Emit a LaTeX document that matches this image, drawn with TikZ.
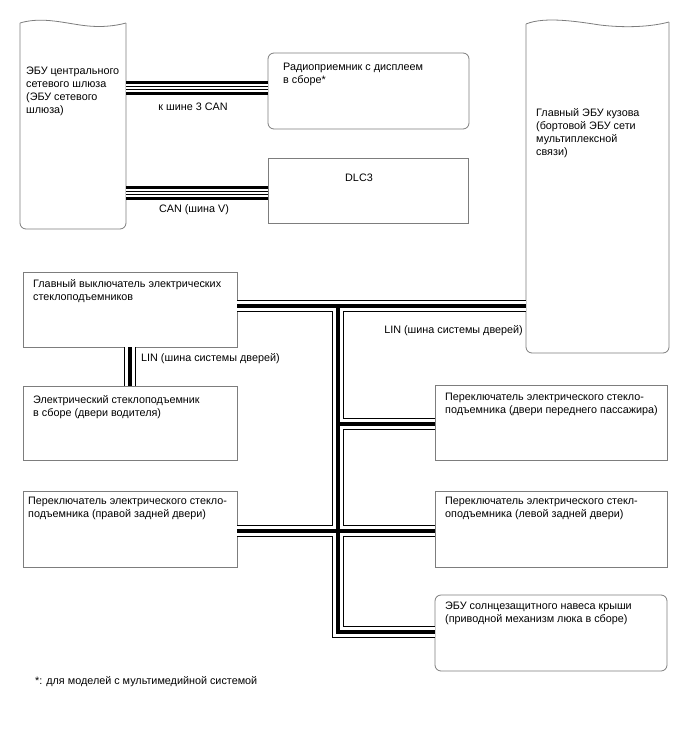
\documentclass[tikz,border=0pt]{standalone}
\usepackage{fontspec}
\setmainfont{Liberation Sans}
\usetikzlibrary{calc}
\definecolor{boxgray}{RGB}{125,125,125}

\begin{document}
\begin{tikzpicture}[x=1pt, y=-1pt, line join=miter,
    box/.style={draw=boxgray, line width=0.8pt, inner sep=0pt},
    ecu/.style={inner sep=0pt},
    txt/.style={anchor=north west, inner sep=0pt, align=left, font=\fontsize{10.8}{13}\selectfont},
    lbl/.style={inner sep=0pt, font=\fontsize{10.8}{13}\selectfont}]
    \useasboundingbox (0,0) rectangle (688,755);

    % Gateway ECU
    \node[ecu, minimum width=106, minimum height=207] (gw) at (73,125.5) {};
    \draw[boxgray, line width=0.8pt, rounded corners=6] (20,23) -- (20,229) -- (126,229) -- (126,23);
    \draw[boxgray, line width=0.8pt] (20,23) .. controls (40,17) and (60,22) .. (80,25) .. controls (100,28) and (115,26) .. (126,23);
    \node[txt] (gwtext) at (26,67) {ЭБУ центрального\\сетевого шлюза\\(ЭБУ сетевого\\шлюза)};

    % Body ECU
    \node[ecu, minimum width=143, minimum height=331] (body) at (597.5,187.5) {};
    \draw[boxgray, line width=0.8pt, rounded corners=6] (526,24) -- (526,353) -- (669,353) -- (669,22);
    \draw[boxgray, line width=0.8pt] (526,24) .. controls (545,16) and (580,22) .. (600,25) .. controls (625,28) and (650,27) .. (669,22);
    \node[txt] (bodytext) at (536,108) {Главный ЭБУ кузова\\(бортовой ЭБУ сети\\мультиплексной\\связи)};

    % Radio and DLC3
    \node[box, rounded corners=6, minimum width=201, minimum height=76] (radio) at (368.5,91) {};
    \node[txt] (radiotext) at (283,63) {Радиоприемник с дисплеем\\в сборе*};
    \node[box, minimum width=200, minimum height=65] (dlc) at (368,190.5) {};
    \node[lbl] (dlctext) at (359,178) {DLC3};

    % Window switches
    \node[box, minimum width=214, minimum height=75] (msw) at (130,309.5) {};
    \node[txt] (mswtext) at (33,279) {Главный выключатель электрических\\стеклоподъемников};
    \node[box, minimum width=214, minimum height=74] (drv) at (130,423) {};
    \node[txt] (drvtext) at (33,395) {Электрический стеклоподъемник\\в сборе (двери водителя)};
    \node[box, minimum width=214, minimum height=76] (rr) at (130,529) {};
    \node[txt] (rrtext) at (28,497) {Переключатель электрического стекло-\\подъемника (правой задней двери)};
    \node[box, minimum width=232, minimum height=75] (pass) at (551,422.5) {};
    \node[txt] (passtext) at (445,393) {Переключатель электрического стекло-\\подъемника (двери переднего пассажира)};
    \node[box, minimum width=232, minimum height=76] (lr) at (551,529) {};
    \node[txt] (lrtext) at (445,497) {Переключатель электрического стекл-\\оподъемника (левой задней двери)};
    \node[box, rounded corners=6, minimum width=232, minimum height=76] (sun) at (551,633) {};
    \node[txt] (suntext) at (445,602) {ЭБУ солнцезащитного навеса крыши\\(приводной механизм люка в сборе)};

    % CAN buses
    \foreach \w/\c in {13.4/black, 8/white, 3.4/black, 1.2/white}
        \draw[line width=\w pt, \c] (gw.east |- 0,88) -- (radio.west |- 0,88)
                                    (gw.east |- 0,193) -- (dlc.west |- 0,193);
    \node[lbl] (can3) at (193,107) {к шине 3 CAN};
    \node[lbl] (canv) at (194,210) {CAN (шина V)};

    % LIN buses
    \coordinate (trunk) at (338,306);
    \foreach \w/\c in {11.5/black, 9.5/white, 3.5/black}
        \draw[line width=\w pt, \c] (msw.east |- trunk) -- (body.west |- trunk)
                                    (trunk) -- (trunk |- 0,632) -- (sun.west |- 0,632)
                                    (trunk |- 0,424) -- (pass.west |- 0,424)
                                    (rr.east |- 0,531) -- (lr.west |- 0,531)
                                    (msw.south) -- (drv.north);
    \node[lbl, anchor=west] (lin1) at (141,359) {LIN (шина системы дверей)};
    \node[lbl, anchor=east] (lin2) at (523,331) {LIN (шина системы дверей)};

    % Footnote
    \node[lbl, anchor=west] (note) at (35,682) {*: для моделей с мультимедийной системой};
\end{tikzpicture}
\end{document}
